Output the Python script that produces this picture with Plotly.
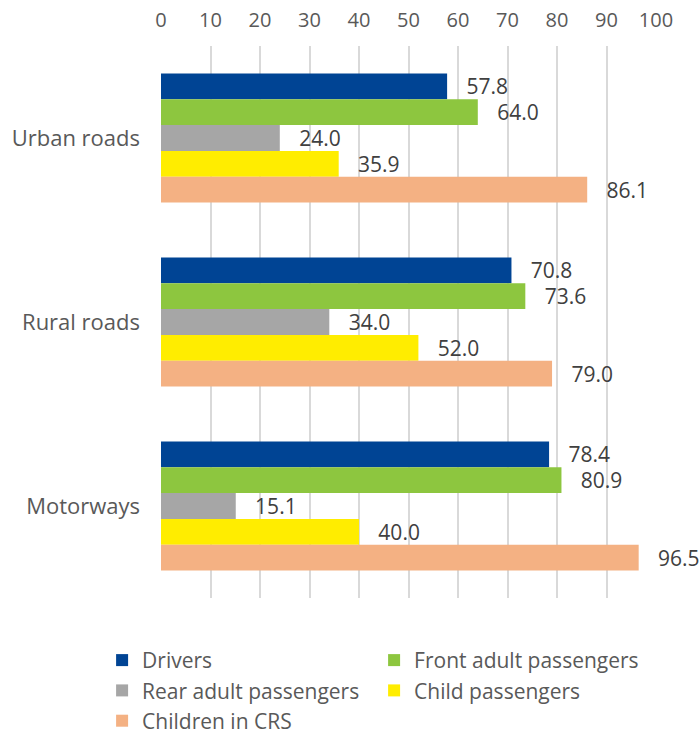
import plotly.graph_objects as go

# Road types (top to bottom) and seat-belt / restraint usage rates (%)
road_types = ["Urban roads", "Rural roads", "Motorways"]
series_names = [
    "Drivers",
    "Front adult passengers",
    "Rear adult passengers",
    "Child passengers",
    "Children in CRS",
]
drivers = [57.8, 70.8, 78.4]
front_adult = [64.0, 73.6, 80.9]
rear_adult = [24.0, 34.0, 15.1]
child = [35.9, 52.0, 40.0]
children_crs = [86.1, 79.0, 96.5]
x_ticks = [0, 10, 20, 30, 40, 50, 60, 70, 80, 90, 100]

colors = ["#004494", "#8DC63F", "#A6A6A6", "#FFED00", "#F4B183"]
values = [drivers, front_adult, rear_adult, child, children_crs]

FONT = "Open Sans, sans-serif"

fig = go.Figure()
for name, vals, col in zip(series_names, values, colors):
    fig.add_trace(
        go.Bar(
            name=name,
            y=road_types,
            x=vals,
            orientation="h",
            marker=dict(color=col, line=dict(width=0)),
            text=vals,
            texttemplate="\u00a0\u00a0\u00a0%{x:.1f}",
            textposition="outside",
            textfont=dict(family=FONT, size=21, color="#404040"),
            constraintext="none",
            cliponaxis=False,
        )
    )

fig.update_layout(
    width=699,
    height=737,
    barmode="group",
    bargap=0.3,
    bargroupgap=0,
    plot_bgcolor="white",
    paper_bgcolor="white",
    margin=dict(l=161, r=43, t=46, b=139, autoexpand=False),
    font=dict(family=FONT, size=21, color="#595959"),
    xaxis=dict(
        side="top",
        range=[0, 100],
        tickvals=x_ticks,
        showgrid=True,
        gridcolor="#D9D9D9",
        gridwidth=1.5,
        zeroline=False,
        showline=False,
        ticks="",
        tickfont=dict(family=FONT, size=20, color="#595959"),
        ticklabelstandoff=14,
    ),
    yaxis=dict(
        autorange="reversed",
        showgrid=False,
        zeroline=False,
        showline=False,
        ticks="",
        ticklabelstandoff=20,
        tickfont=dict(family=FONT, size=22, color="#595959"),
    ),
    legend=dict(
        orientation="h",
        x=-0.119,
        xanchor="left",
        y=-0.076,
        yanchor="top",
        entrywidth=227,
        entrywidthmode="pixels",
        font=dict(family=FONT, size=21, color="#595959"),
        itemwidth=30,
        tracegroupgap=0,
    ),
)

fig.write_html("out.html")
